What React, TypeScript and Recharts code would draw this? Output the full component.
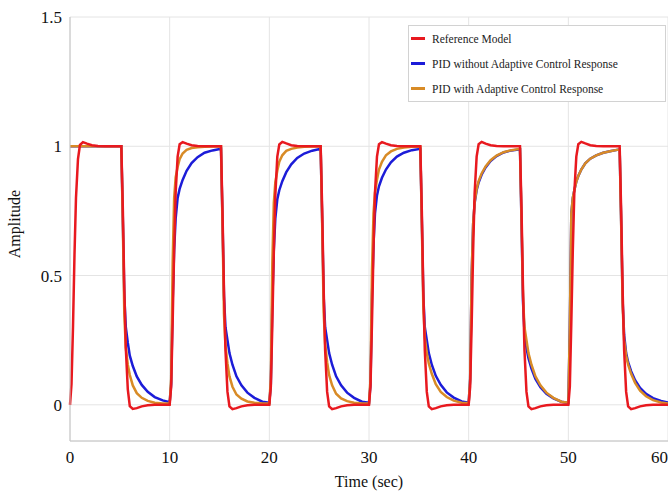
import React from 'react';
import { LineChart, Line, XAxis, YAxis, CartesianGrid, Legend } from 'recharts';

// sample times (sec), denser around the edges of each step
const time = [
  0, 0.15, 0.3, 0.45, 0.6, 0.8, 1, 1.3, 1.7, 2.2, 2.8, 3.5, 4.3, 5.15, 5.3, 5.45, 5.6, 5.8, 6, 6.3, 6.7, 7.2, 7.8, 8.5, 9.3,
  10, 10.15, 10.3, 10.45, 10.6, 10.8, 11, 11.3, 11.7, 12.2, 12.8, 13.5, 14.3, 15.15, 15.3, 15.45, 15.6, 15.8, 16, 16.3, 16.7, 17.2, 17.8, 18.5, 19.3,
  20, 20.15, 20.3, 20.45, 20.6, 20.8, 21, 21.3, 21.7, 22.2, 22.8, 23.5, 24.3, 25.15, 25.3, 25.45, 25.6, 25.8, 26, 26.3, 26.7, 27.2, 27.8, 28.5, 29.3,
  30, 30.15, 30.3, 30.45, 30.6, 30.8, 31, 31.3, 31.7, 32.2, 32.8, 33.5, 34.3, 35.15, 35.3, 35.45, 35.6, 35.8, 36, 36.3, 36.7, 37.2, 37.8, 38.5, 39.3,
  40, 40.15, 40.3, 40.45, 40.6, 40.8, 41, 41.3, 41.7, 42.2, 42.8, 43.5, 44.3, 45.15, 45.3, 45.45, 45.6, 45.8, 46, 46.3, 46.7, 47.2, 47.8, 48.5, 49.3,
  50, 50.15, 50.3, 50.45, 50.6, 50.8, 51, 51.3, 51.7, 52.2, 52.8, 53.5, 54.3, 55.15, 55.3, 55.45, 55.6, 55.8, 56, 56.3, 56.7, 57.2, 57.8, 58.5, 59.3,
  60,
];

const referenceModel = [
  0, 0.08, 0.3, 0.58, 0.8, 0.95, 1.005, 1.016, 1.01, 1.004, 1.001, 1, 1, 1, 0.76, 0.45, 0.22, 0.06, -0.005, -0.016, -0.013, -0.006, -0.002, 0, 0,
  0, 0.07, 0.32, 0.6, 0.82, 0.96, 1.008, 1.016, 1.01, 1.004, 1.001, 1, 1, 1, 0.75, 0.44, 0.21, 0.05, -0.006, -0.017, -0.013, -0.006, -0.002, 0, 0,
  0, 0.07, 0.31, 0.59, 0.81, 0.96, 1.007, 1.017, 1.011, 1.004, 1.001, 1, 1, 1, 0.76, 0.45, 0.21, 0.05, -0.006, -0.017, -0.013, -0.006, -0.002, 0, 0,
  0, 0.07, 0.32, 0.6, 0.82, 0.96, 1.008, 1.016, 1.01, 1.004, 1.001, 1, 1, 1, 0.75, 0.44, 0.21, 0.05, -0.006, -0.017, -0.013, -0.006, -0.002, 0, 0,
  0, 0.07, 0.31, 0.6, 0.82, 0.96, 1.008, 1.017, 1.01, 1.004, 1.001, 1, 1, 1, 0.76, 0.45, 0.21, 0.05, -0.006, -0.017, -0.013, -0.006, -0.002, 0, 0,
  0, 0.07, 0.32, 0.6, 0.82, 0.96, 1.008, 1.017, 1.011, 1.004, 1.001, 1, 1, 1, 0.75, 0.44, 0.21, 0.05, -0.006, -0.017, -0.013, -0.006, -0.002, 0, 0,
  0,
];

const pidFixed = [
  1, 1, 1, 1, 1, 1, 1, 1, 1, 1, 1, 1, 1, 1, 0.72, 0.42, 0.3, 0.24, 0.19, 0.15, 0.11, 0.077, 0.05, 0.03, 0.017,
  0.01, 0.08, 0.4, 0.6, 0.72, 0.8, 0.835, 0.87, 0.905, 0.935, 0.958, 0.975, 0.984, 0.99, 0.72, 0.42, 0.3, 0.25, 0.2, 0.155, 0.11, 0.075, 0.047, 0.027, 0.012,
  0.008, 0.08, 0.4, 0.6, 0.72, 0.795, 0.83, 0.865, 0.9, 0.93, 0.955, 0.972, 0.983, 0.99, 0.72, 0.42, 0.3, 0.25, 0.2, 0.155, 0.11, 0.075, 0.047, 0.027, 0.012,
  0.008, 0.08, 0.42, 0.62, 0.74, 0.81, 0.845, 0.878, 0.91, 0.938, 0.96, 0.975, 0.985, 0.99, 0.72, 0.42, 0.3, 0.25, 0.2, 0.155, 0.112, 0.077, 0.048, 0.028, 0.013,
  0.008, 0.1, 0.5, 0.7, 0.78, 0.83, 0.86, 0.89, 0.918, 0.943, 0.962, 0.976, 0.984, 0.988, 0.71, 0.4, 0.28, 0.22, 0.18, 0.14, 0.1, 0.068, 0.043, 0.025, 0.012,
  0.007, 0.3, 0.74, 0.8, 0.83, 0.863, 0.885, 0.91, 0.934, 0.952, 0.965, 0.975, 0.982, 0.988, 0.71, 0.4, 0.27, 0.2, 0.165, 0.13, 0.095, 0.065, 0.042, 0.026, 0.015,
  0.009,
];

const pidAdaptive = [
  1, 1, 1, 1, 1, 1, 1, 1, 1, 1, 1, 1, 1, 1, 0.7, 0.35, 0.22, 0.155, 0.115, 0.075, 0.045, 0.027, 0.015, 0.008, 0.005,
  0.005, 0.1, 0.55, 0.8, 0.88, 0.92, 0.95, 0.972, 0.986, 0.993, 0.996, 0.998, 0.999, 1, 0.7, 0.35, 0.23, 0.16, 0.11, 0.07, 0.04, 0.024, 0.013, 0.008, 0.005,
  0.005, 0.1, 0.55, 0.78, 0.86, 0.905, 0.94, 0.965, 0.982, 0.99, 0.995, 0.998, 0.999, 1, 0.7, 0.36, 0.235, 0.165, 0.115, 0.075, 0.043, 0.025, 0.014, 0.008, 0.005,
  0.005, 0.1, 0.52, 0.74, 0.82, 0.87, 0.91, 0.94, 0.965, 0.98, 0.99, 0.995, 0.998, 0.998, 0.7, 0.38, 0.26, 0.2, 0.16, 0.12, 0.08, 0.05, 0.03, 0.016, 0.008,
  0.006, 0.1, 0.5, 0.7, 0.785, 0.835, 0.865, 0.895, 0.922, 0.946, 0.964, 0.977, 0.985, 0.99, 0.72, 0.42, 0.3, 0.25, 0.2, 0.155, 0.11, 0.075, 0.047, 0.027, 0.012,
  0.008, 0.3, 0.74, 0.8, 0.83, 0.863, 0.885, 0.91, 0.934, 0.952, 0.965, 0.975, 0.982, 0.988, 0.7, 0.38, 0.25, 0.19, 0.155, 0.12, 0.085, 0.055, 0.033, 0.018, 0.009,
  0.005,
];

const xTicks = [0, 10, 20, 30, 40, 50, 60];
const yTicks = [0, 0.5, 1, 1.5];

const legendItems = [
  { name: 'Reference Model', color: '#e8191f' },
  { name: 'PID without Adaptive Control Response', color: '#1c1cd8' },
  { name: 'PID with Adaptive Control Response', color: '#d88b26' },
];

const data = time.map((t, i) => ({
  t,
  ref: referenceModel[i],
  fixed: pidFixed[i],
  adaptive: pidAdaptive[i],
}));

const serif = '"Liberation Serif", "Times New Roman", serif';

const renderLegend = () => (
  <div
    style={{
      width: 258,
      height: 77,
      boxSizing: 'border-box',
      border: '1px solid #d2d2d2',
      background: '#fff',
      fontFamily: serif,
      fontSize: 11.5,
      color: '#222',
    }}
  >
    {legendItems.map(item => (
      <div key={item.name} style={{ display: 'flex', alignItems: 'center', height: 25 }}>
        <span style={{ display: 'inline-block', width: 14, height: 3, background: item.color, marginLeft: 2, marginRight: 7 }} />
        <span>{item.name}</span>
      </div>
    ))}
  </div>
);

const App: React.FC = () => {
  return (
    <div style={{ position: 'absolute', left: 0, top: 0, background: '#fff' }}>
      <LineChart width={668} height={491} data={data} margin={{ top: 17, right: 0, bottom: 0, left: 0 }}>
        <CartesianGrid stroke="#e4e4e4" strokeWidth={1} />
        <XAxis
          dataKey="t"
          type="number"
          domain={[0, 60]}
          ticks={xTicks}
          height={50}
          tickSize={0}
          tickMargin={10}
          axisLine={{ stroke: '#c4c4c4' }}
          tick={{ fill: '#111', fontSize: 17, fontFamily: serif }}
          label={{ value: 'Time (sec)', position: 'insideBottom', offset: 4, fill: '#111', fontSize: 16, fontFamily: serif }}
        />
        <YAxis
          type="number"
          domain={[-0.14, 1.5]}
          ticks={yTicks}
          width={70}
          tickSize={0}
          tickMargin={8}
          axisLine={{ stroke: '#c4c4c4' }}
          tick={{ fill: '#111', fontSize: 17, fontFamily: serif }}
          label={{
            content: () => (
              <text x={20} y={224} transform="rotate(-90 20 224)" textAnchor="middle" fill="#111" fontSize={16} fontFamily={serif}>
                Amplitude
              </text>
            ),
          }}
        />
        <Legend
          layout="horizontal"
          verticalAlign="middle"
          align="center"
          content={renderLegend}
          wrapperStyle={{ position: 'absolute', left: 408, top: 25, width: 258, height: 77 }}
        />
        <Line type="linear" dataKey="fixed" stroke="#1c1cd8" strokeWidth={2.5} dot={false} isAnimationActive={false} />
        <Line type="linear" dataKey="adaptive" stroke="#d88b26" strokeWidth={2.5} dot={false} isAnimationActive={false} />
        <Line type="linear" dataKey="ref" stroke="#e8191f" strokeWidth={2.5} dot={false} isAnimationActive={false} />
      </LineChart>
    </div>
  );
};

export default App;
